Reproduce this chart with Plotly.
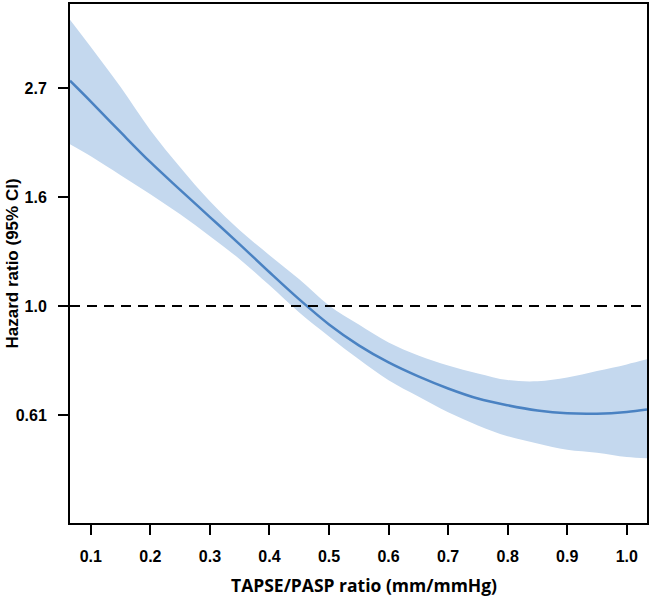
import plotly.graph_objects as go
import math

# TAPSE/PASP ratio (x)
x_vals = [0.065, 0.10, 0.15, 0.20, 0.25, 0.30, 0.35, 0.40, 0.45, 0.50, 0.55,
          0.60, 0.65, 0.70, 0.75, 0.80, 0.85, 0.90, 0.95, 1.00, 1.034]
# Hazard ratio estimate
hr = [2.814, 2.557, 2.222, 1.936, 1.705, 1.505, 1.328, 1.168, 1.031, 0.919, 0.835,
      0.772, 0.724, 0.685, 0.654, 0.634, 0.619, 0.611, 0.610, 0.615, 0.622]
# 95% CI upper
hr_upper = [3.724, 3.285, 2.733, 2.243, 1.892, 1.618, 1.416, 1.263, 1.131, 1.003, 0.919,
            0.846, 0.797, 0.761, 0.734, 0.712, 0.708, 0.720, 0.742, 0.765, 0.783]
# 95% CI lower
hr_lower = [2.103, 1.990, 1.824, 1.671, 1.524, 1.378, 1.240, 1.100, 0.971, 0.870, 0.783,
            0.711, 0.660, 0.614, 0.578, 0.550, 0.532, 0.517, 0.510, 0.500, 0.497]

x_ticks = [0.1, 0.2, 0.3, 0.4, 0.5, 0.6, 0.7, 0.8, 0.9, 1.0]
x_tick_labels = ["0.1", "0.2", "0.3", "0.4", "0.5", "0.6", "0.7", "0.8", "0.9", "1.0"]
y_ticks = [math.exp(-0.5), 1.0, math.exp(0.5), math.exp(1.0)]
y_tick_labels = ["0.61", "1.0", "1.6", "2.7"]

x_title = "TAPSE/PASP ratio (mm/mmHg)"
y_title = "Hazard ratio (95% CI)"

band_color = "rgb(196,216,238)"
line_color = "#4A82C2"
ARIAL = "Liberation Sans"

fig = go.Figure()
fig.add_trace(go.Scatter(x=x_vals, y=hr_lower, mode="lines",
                         line=dict(width=0, color=band_color, shape="spline"),
                         showlegend=False, hoverinfo="skip"))
fig.add_trace(go.Scatter(x=x_vals, y=hr_upper, mode="lines",
                         line=dict(width=0, color=band_color, shape="spline"),
                         fill="tonexty", fillcolor=band_color, showlegend=False, hoverinfo="skip"))
fig.add_trace(go.Scatter(x=x_vals, y=hr, mode="lines",
                         line=dict(width=2.5, color=line_color, shape="spline"),
                         showlegend=False))
fig.add_hline(y=1.0, line=dict(color="black", width=2, dash="10px,7px"))

fig.update_layout(
    width=652, height=601,
    margin=dict(l=70, r=5, t=4, b=78),
    plot_bgcolor="white", paper_bgcolor="white",
    font=dict(family=ARIAL, color="black"),
)
axis_common = dict(
    showline=True, linecolor="black", linewidth=2, mirror=True,
    ticks="outside", ticklen=10, tickwidth=2, tickcolor="black",
    showgrid=False, zeroline=False, automargin=False,
    tickfont=dict(family=ARIAL, size=16, color="black", weight="bold"),
    ticklabelstandoff=8,
)
fig.update_xaxes(range=[0.065, 1.034], tickvals=x_ticks, ticktext=x_tick_labels, **axis_common)
fig.update_yaxes(type="log", range=[-0.4326, 0.6024], tickvals=y_ticks, ticktext=y_tick_labels,
                 **axis_common)

fig.add_annotation(text=x_title, xref="paper", yref="paper", x=0.5095, y=0,
                   xanchor="center", yanchor="middle", yshift=-62, showarrow=False,
                   font=dict(family="Open Sans", size=17.5, color="black", weight="bold"))
fig.add_annotation(text=y_title, xref="paper", yref="paper", x=0, y=0.5,
                   xanchor="center", yanchor="middle", xshift=-58, textangle=-90, showarrow=False,
                   font=dict(family=ARIAL, size=17, color="black", weight="bold"))

fig.write_html("out.html", config={"displayModeBar": False},
               post_script="document.body.style.margin='0';document.body.style.overflow='hidden';")
